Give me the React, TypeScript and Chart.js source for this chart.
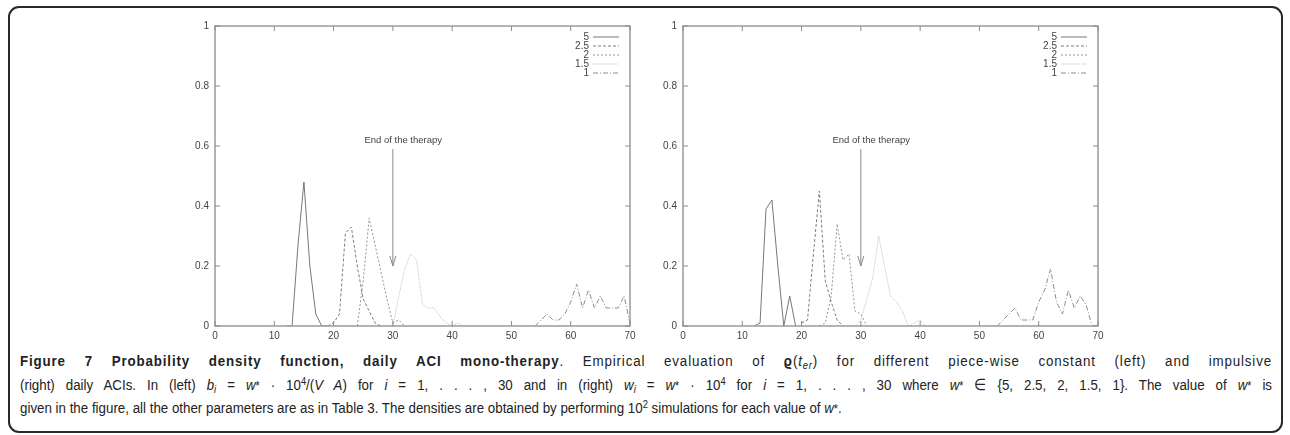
import React, { useEffect, useRef } from 'react';
import { Chart, registerables } from 'chart.js';
Chart.register(...registerables);

// ---------- data ----------
const seriesLabels = ['5', '2.5', '2', '1.5', '1'];
const xTickValues = [0, 10, 20, 30, 40, 50, 60, 70];
const yTickLabels = ['0', '0.2', '0.4', '0.6', '0.8', '1'];

// left panel: piece-wise constant ACIs
const leftDays5 = [12, 13, 14, 15, 16, 17, 18, 19];
const leftVals5 = [0, 0, 0.27, 0.48, 0.2, 0.04, 0, 0];
const leftDays25 = [19, 20, 21, 22, 23, 24, 25, 26, 27, 28];
const leftVals25 = [0, 0.01, 0.04, 0.31, 0.33, 0.2, 0.09, 0.05, 0.01, 0];
const leftDays2 = [24, 25, 26, 27, 28, 29, 30, 31, 32];
const leftVals2 = [0, 0.15, 0.36, 0.27, 0.18, 0.09, 0.01, 0.02, 0];
const leftDays15 = [30, 31, 32, 33, 34, 35, 36, 37, 38, 39, 40, 41, 42];
const leftVals15 = [0, 0.1, 0.19, 0.24, 0.22, 0.07, 0.06, 0.06, 0.03, 0.01, 0, 0.01, 0];
const leftDays1 = [54, 55, 56, 57, 58, 59, 60, 61, 62, 63, 64, 65, 66, 67, 68, 69, 70];
const leftVals1 = [0, 0.02, 0.04, 0.02, 0.02, 0.04, 0.08, 0.14, 0.06, 0.12, 0.06, 0.1, 0.06, 0.06, 0.06, 0.1, 0.01];

// right panel: impulsive ACIs
const rightDays5 = [12, 13, 14, 15, 16, 17, 18, 19];
const rightVals5 = [0, 0.01, 0.39, 0.42, 0.2, 0, 0.1, 0];
const rightDays25 = [20, 21, 22, 23, 24, 25, 26, 27];
const rightVals25 = [0.01, 0.02, 0.24, 0.45, 0.15, 0.08, 0.02, 0];
const rightDays2 = [23, 24, 25, 26, 27, 28, 29, 30, 31];
const rightVals2 = [0, 0.01, 0.1, 0.34, 0.22, 0.24, 0.05, 0.04, 0];
const rightDays15 = [29, 30, 31, 32, 33, 34, 35, 36, 37, 38, 39, 40, 41];
const rightVals15 = [0, 0.02, 0.09, 0.16, 0.3, 0.2, 0.1, 0.08, 0.05, 0, 0.01, 0.02, 0];
const rightDays1 = [53, 54, 55, 56, 57, 58, 59, 60, 61, 62, 63, 64, 65, 66, 67, 68, 69];
const rightVals1 = [0, 0.02, 0.04, 0.06, 0.02, 0.02, 0.02, 0.08, 0.12, 0.19, 0.08, 0.04, 0.12, 0.06, 0.1, 0.07, 0];

// annotation
const annotationText = 'End of the therapy';
const arrowDay = 30;
const arrowFrom = 0.59;
const arrowTo = 0.2;
const textDay = 25.2;
const textValue = 0.62;

// ---------- styles ----------
const lineStyles = [
  { color: '#777777', dash: [] as number[] },
  { color: '#7d7d7d', dash: [3, 2] },
  { color: '#959595', dash: [2, 2] },
  { color: '#c0c0c0', dash: [1, 1] },
  { color: '#8c8c8c', dash: [5, 2, 1, 2] },
];

const TICK_FONT = '"Liberation Sans", Arial, sans-serif';

const decorPlugin = {
  id: 'decor',
  afterDatasetsDraw(chart: any) {
    const { ctx, chartArea: a, scales } = chart;
    const xs = scales.x;
    const ys = scales.y;
    ctx.save();
    // frame
    ctx.strokeStyle = '#9a9a9a';
    ctx.lineWidth = 1.5;
    ctx.setLineDash([]);
    ctx.strokeRect(a.left, a.top, a.right - a.left, a.bottom - a.top);
    // inward ticks (mirrored)
    ctx.lineWidth = 1;
    ctx.strokeStyle = '#8a8a8a';
    const tl = 5;
    xTickValues.forEach((v) => {
      const px = xs.getPixelForValue(v);
      ctx.beginPath();
      ctx.moveTo(px, a.bottom);
      ctx.lineTo(px, a.bottom - tl);
      ctx.moveTo(px, a.top);
      ctx.lineTo(px, a.top + tl);
      ctx.stroke();
    });
    yTickLabels.forEach((l) => {
      const py = ys.getPixelForValue(parseFloat(l));
      ctx.beginPath();
      ctx.moveTo(a.left, py);
      ctx.lineTo(a.left + tl, py);
      ctx.moveTo(a.right, py);
      ctx.lineTo(a.right - tl, py);
      ctx.stroke();
    });
    // legend
    ctx.font = `10px ${TICK_FONT}`;
    ctx.textAlign = 'right';
    ctx.textBaseline = 'middle';
    chart.data.datasets.forEach((ds: any, i: number) => {
      const y = a.top + 11 + 9 * i;
      ctx.fillStyle = '#444';
      ctx.fillText(ds.label, a.right - 41, y + 0.5);
      ctx.strokeStyle = ds.borderColor;
      ctx.setLineDash(ds.borderDash || []);
      ctx.lineWidth = 1;
      ctx.beginPath();
      ctx.moveTo(a.right - 37, y);
      ctx.lineTo(a.right - 11, y);
      ctx.stroke();
    });
    ctx.setLineDash([]);
    // arrow + text
    const ax = xs.getPixelForValue(arrowDay);
    const y1 = ys.getPixelForValue(arrowFrom);
    const y2 = ys.getPixelForValue(arrowTo);
    ctx.strokeStyle = '#8a8a8a';
    ctx.lineWidth = 1;
    ctx.beginPath();
    ctx.moveTo(ax, y1);
    ctx.lineTo(ax, y2);
    ctx.moveTo(ax - 3, y2 - 10);
    ctx.lineTo(ax, y2);
    ctx.lineTo(ax + 3, y2 - 10);
    ctx.stroke();
    ctx.fillStyle = '#444';
    ctx.textAlign = 'left';
    ctx.textBaseline = 'middle';
    ctx.font = `9.5px ${TICK_FONT}`;
    ctx.fillText(annotationText, xs.getPixelForValue(textDay), ys.getPixelForValue(textValue));
    ctx.restore();
  },
};

type Series = { days: number[]; vals: number[] };

function Panel({ series, left }: { series: Series[]; left: number }) {
  const ref = useRef<HTMLCanvasElement | null>(null);
  useEffect(() => {
    if (!ref.current) return;
    const chart = new Chart(ref.current, {
      type: 'line',
      data: {
        datasets: series.map((s, i) => ({
          label: seriesLabels[i],
          data: s.days.map((d, k) => ({ x: d, y: s.vals[k] })),
          borderColor: lineStyles[i].color,
          borderDash: lineStyles[i].dash,
          borderWidth: 1,
          pointRadius: 0,
          fill: false,
          tension: 0,
        })),
      },
      options: {
        animation: false,
        responsive: false,
        maintainAspectRatio: false,
        layout: { padding: { top: 10, right: 20, left: 0, bottom: 0 } },
        plugins: { legend: { display: false }, tooltip: { enabled: false } },
        scales: {
          x: {
            type: 'linear',
            min: 0,
            max: 70,
            grid: { display: false, drawTicks: false },
            border: { display: false },
            afterBuildTicks: (s: any) => {
              s.ticks = xTickValues.map((v) => ({ value: v }));
            },
            afterFit: (s: any) => {
              s.height = 18;
            },
            ticks: {
              padding: 4,
              color: '#444',
              font: { size: 10, family: TICK_FONT },
              maxRotation: 0,
              callback: (v: any) => String(v),
            },
          },
          y: {
            type: 'linear',
            min: 0,
            max: 1,
            grid: { display: false, drawTicks: false },
            border: { display: false },
            afterBuildTicks: (s: any) => {
              s.ticks = yTickLabels.map((l) => ({ value: parseFloat(l) }));
            },
            afterFit: (s: any) => {
              s.width = 45;
            },
            ticks: {
              padding: 6,
              color: '#444',
              font: { size: 10, family: TICK_FONT },
              callback: (v: any) => yTickLabels.find((l) => parseFloat(l) === v) ?? String(v),
            },
          },
        },
      },
      plugins: [decorPlugin],
    });
    return () => chart.destroy();
  }, []);
  return (
    <canvas
      ref={ref}
      width={480}
      height={330}
      style={{ position: 'absolute', left, top: 14, width: 480, height: 330 }}
    />
  );
}

const leftSeries: Series[] = [
  { days: leftDays5, vals: leftVals5 },
  { days: leftDays25, vals: leftVals25 },
  { days: leftDays2, vals: leftVals2 },
  { days: leftDays15, vals: leftVals15 },
  { days: leftDays1, vals: leftVals1 },
];
const rightSeries: Series[] = [
  { days: rightDays5, vals: rightVals5 },
  { days: rightDays25, vals: rightVals25 },
  { days: rightDays2, vals: rightVals2 },
  { days: rightDays15, vals: rightVals15 },
  { days: rightDays1, vals: rightVals1 },
];

const CAP_SCALE = 0.86;
const CAP_W = 1252;

export default function App() {
  const capFont = '"Liberation Sans", Arial, sans-serif';
  const lineStyle: React.CSSProperties = {
    width: CAP_W / CAP_SCALE,
    whiteSpace: 'nowrap',
    height: 23.5,
    lineHeight: '23.5px',
    overflow: 'visible',
  };
  const just: React.CSSProperties = { whiteSpace: 'normal', textAlign: 'justify', textAlignLast: 'justify' } as React.CSSProperties;
  const supS: React.CSSProperties = { fontSize: '0.7em', lineHeight: 0, verticalAlign: '0.5em' };
  const subS: React.CSSProperties = { fontSize: '0.7em', lineHeight: 0, verticalAlign: '-0.25em' };
  const w = <i>w</i>;
  const ws = (
    <span>
      <i>w</i>
      <span style={{ fontSize: '0.8em' }}>*</span>
    </span>
  );
  return (
    <div style={{ position: 'absolute', left: 0, top: 0, width: 1290, height: 435, background: '#fff', overflow: 'hidden' }}>
      <div
        style={{
          position: 'absolute',
          left: 8,
          top: 6,
          width: 1275,
          height: 427,
          border: '2px solid #2a2a2a',
          borderRadius: 11,
          boxSizing: 'border-box',
        }}
      />
      <Panel series={leftSeries} left={170} />
      <Panel series={rightSeries} left={638} />
      <div
        style={{
          position: 'absolute',
          left: 20,
          top: 349,
          transform: `scaleX(${CAP_SCALE})`,
          transformOrigin: 'left top',
          fontFamily: capFont,
          fontSize: 15.5,
          color: '#222',
        }}
      >
        <div style={{ ...lineStyle, ...just, letterSpacing: '1px' }}>
          <b>Figure 7 Probability density function, daily ACI mono-therapy</b>. Empirical evaluation of{' '}
          <b>ϱ</b>(<i>t</i>
          <span style={subS}>
            <i>er</i>
          </span>
          ) for different piece-wise constant (left) and impulsive
        </div>
        <div style={{ ...lineStyle, ...just }}>
          (right) daily ACIs. In (left) <i>b</i>
          <span style={subS}>
            <i>i</i>
          </span>{' '}
          = {ws} · 10<span style={supS}>4</span>/(<i>V A</i>) for <i>i</i> = 1, . . . , 30 and in (right){' '}
          {w}
          <span style={subS}>
            <i>i</i>
          </span>{' '}
          = {ws} · 10<span style={supS}>4</span> for <i>i</i> = 1, . . . , 30 where {ws} ∈ {'{'}5, 2.5, 2, 1.5, 1{'}'}. The value of {ws} is
        </div>
        <div style={lineStyle}>
          given in the figure, all the other parameters are as in Table 3. The densities are obtained by performing 10
          <span style={supS}>2</span> simulations for each value of {ws}.
        </div>
      </div>
    </div>
  );
}
